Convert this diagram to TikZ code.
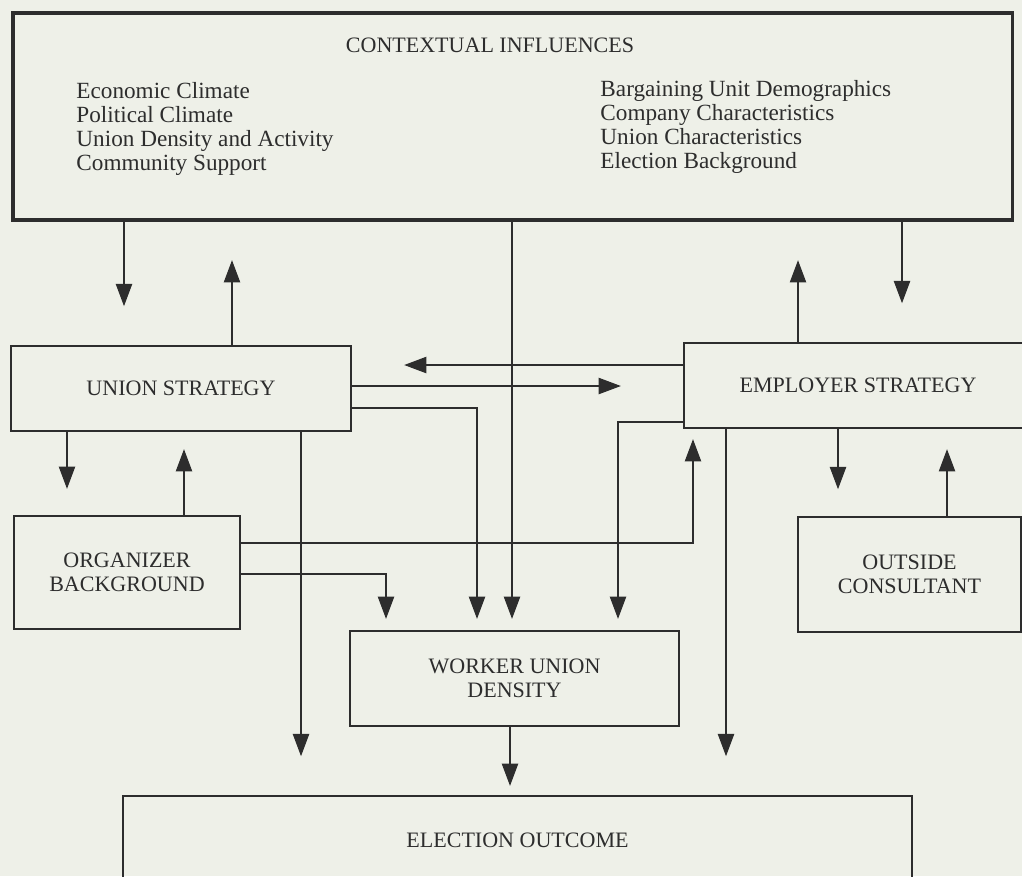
\documentclass[tikz,border=0pt]{standalone}
\usepackage{fontspec}
\setmainfont{Liberation Serif}
\usetikzlibrary{arrows.meta}
\definecolor{paper}{RGB}{238,240,232}
\definecolor{ink}{RGB}{45,45,45}

\begin{document}
\begin{tikzpicture}[x=0.015cm, y=-0.015cm,
    box/.style={draw=ink, line width=1pt, text=ink, align=center, inner sep=0pt,
      font=\fontsize{9.4}{10.2}\selectfont},
    factors/.style={text=ink, align=left, inner sep=0pt, anchor=west,
      font=\fontsize{9.9}{10.2}\selectfont},
    conn/.style={draw=ink, line width=0.45pt, -{Triangle[length=9.5pt,width=7pt]}},
    gap/.style={shorten >=0.58cm}]
    \clip (0,0) rectangle (1022,876);
    \fill[paper] (0,0) rectangle (1022,876);

    % boxes
    \node[box, line width=1.3pt, minimum width=14.985cm, minimum height=3.105cm] (ctx) at (512.5,116.5) {};
    \node[box, draw=none] (ctxtitle) at (490,45) {CONTEXTUAL INFLUENCES};
    \node[factors] (ctxleft) at (76,129) {Economic Climate\\Political Climate\\Union Density and Activity\\Community Support};
    \node[factors] (ctxright) at (600,127) {Bargaining Unit Demographics\\Company Characteristics\\Union Characteristics\\Election Background};
    \node[box, minimum width=5.1cm, minimum height=1.275cm] (union) at (181,388.5) {UNION STRATEGY};
    \node[box, minimum width=5.22cm, minimum height=1.275cm] (emp) at (858,385.5) {EMPLOYER STRATEGY};
    \node[box, minimum width=3.39cm, minimum height=1.695cm] (org) at (127,572.5) {ORGANIZER\\BACKGROUND};
    \node[box, minimum width=3.345cm, minimum height=1.725cm] (cons) at (909.5,574.5) {OUTSIDE\\CONSULTANT};
    \node[box, minimum width=4.935cm, minimum height=1.425cm] (worker) at (514.5,678.5) {WORKER UNION\\DENSITY};
    \node[box, minimum width=11.835cm, minimum height=1.335cm] (outcome) at (517.5,840.5) {ELECTION OUTCOME};

    % context and strategies
    \draw[conn, gap] (ctx.south -| 124,0) -- (union.north -| 124,0);
    \draw[conn, gap] (union.north -| 232,0) -- (ctx.south -| 232,0);
    \draw[conn, gap] (ctx.south -| 902,0) -- (emp.north -| 902,0);
    \draw[conn, gap] (emp.north -| 798,0) -- (ctx.south -| 798,0);
    \draw[conn, shorten >=0.165cm] (ctx.south -| 512,0) -- (worker.north -| 512,0);

    % between the strategies
    \draw[conn, shorten >=0.78cm] (emp.west |- 0,365) -- (union.east |- 0,365);
    \draw[conn, shorten >=0.93cm] (union.east |- 0,386) -- (emp.west |- 0,386);

    % union side
    \draw[conn, shorten >=0.165cm] (union.east |- 0,408) -| (worker.north -| 477,0);
    \draw[conn, gap] (union.south -| 301,0) -- (outcome.north -| 301,0);
    \draw[conn, shorten >=0.39cm] (union.south -| 67,0) -- (org.north -| 67,0);
    \draw[conn, shorten >=0.255cm] (org.north -| 184,0) -- (union.south -| 184,0);
    \draw[conn, shorten >=0.15cm] (org.east |- 0,543) -| (emp.south -| 693,0);
    \draw[conn, shorten >=0.165cm] (org.east |- 0,574) -| (worker.north -| 386,0);

    % employer side
    \draw[conn, shorten >=0.165cm] (emp.west |- 0,422) -| (worker.north -| 618,0);
    \draw[conn, gap] (emp.south -| 726,0) -- (outcome.north -| 726,0);
    \draw[conn, shorten >=0.4cm] (emp.south -| 838,0) -- (cons.north -| 838,0);
    \draw[conn, shorten >=0.3cm] (cons.north -| 947,0) -- (emp.south -| 947,0);

    \draw[conn, shorten >=0.135cm] (worker.south -| 510,0) -- (outcome.north -| 510,0);
\end{tikzpicture}
\end{document}
